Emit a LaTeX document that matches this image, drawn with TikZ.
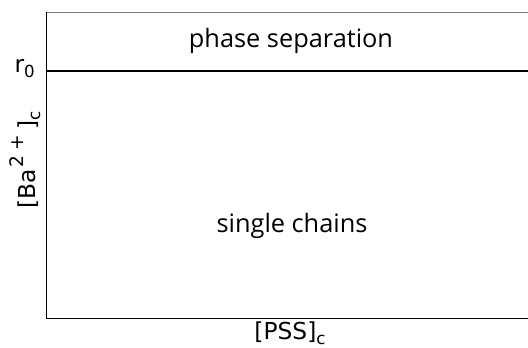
\documentclass[tikz,border=0pt]{standalone}
\usepackage{fontspec}
\setmainfont{Open Sans}
\newfontfamily\axisfont{DejaVu Sans}
\newcommand{\mysup}[1]{\raisebox{0.5em}{\fontsize{14pt}{16pt}\selectfont #1}}
\newcommand{\mysub}[1]{\raisebox{-0.22em}{\fontsize{12.5pt}{14pt}\selectfont #1}}
\begin{document}
\begin{tikzpicture}[x=0.75pt,y=-0.75pt,
  inner/.style={font=\fontsize{19pt}{23pt}\selectfont, inner sep=0pt},
  axlab/.style={font=\axisfont\fontsize{17.5pt}{21pt}\selectfont, inner sep=0pt}]
\useasboundingbox (0,0) rectangle (528,347);
\coordinate (tl) at (46,12);
\coordinate (tr) at (528,12);
\coordinate (bl) at (46,318);
\coordinate (br) at (528,318);
\coordinate (ml) at (46,70.5);
\coordinate (mr) at (528,70.5);
\draw[gray, line width=0.75pt] (tl) -- (tr);
\draw[black, line width=0.75pt] (tl) -- (bl) -- (br);
\draw[black, line width=1.5pt] (ml) -- (mr);
\node[inner] (ps) at (291,41) {phase separation};
\node[inner] (sc) at (292,226) {single chains};
\node[axlab, anchor=east] (r0) at (35,69) {r\mysub{0}};
\node[axlab, rotate=90] (ba) at (25,160) {[Ba\hspace{1pt}\mysup{2\hspace{4pt}+}\hspace{4pt}]\mysub{c}};
\node[axlab] (pss) at (290,333) {[PSS]\mysub{c}};
\end{tikzpicture}
\end{document}
